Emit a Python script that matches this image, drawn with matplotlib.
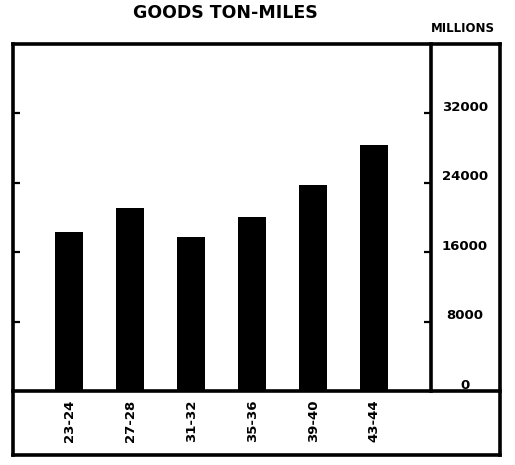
import numpy as np
import matplotlib.pyplot as plt
from matplotlib.lines import Line2D

# goods ton-miles (millions), by period
periods = ['23-24', '27-28', '31-32', '35-36', '39-40', '43-44']
ton_miles = [18300, 21100, 17800, 20100, 23700, 28400]
yticks = [0, 8000, 16000, 24000, 32000]
ytick_labels = ['0', '8000', '16000', '24000', '32000']

W, H = 515, 465
fig = plt.figure(figsize=(W / 100, H / 100), dpi=100)

def fx(px):
    return px / W

def fy(py):
    return 1 - py / H

lw = 2.6
font = dict(family='DejaVu Sans', weight='bold')

# outer frame
frame = fig.add_axes([fx(13), fy(455), fx(500) - fx(13), fy(44) - fy(455)])
frame.set_xticks([])
frame.set_yticks([])
for s in frame.spines.values():
    s.set_linewidth(lw)
frame.patch.set_alpha(0)

# bar panel
ax = fig.add_axes([fx(13), fy(391), fx(431) - fx(13), fy(44) - fy(391)])
ax.patch.set_alpha(0)
x = np.arange(len(periods))
ax.bar(x, ton_miles, width=0.46, color='black')
ax.set_xlim(-0.92, 5.93)
ax.set_ylim(0, 40000)
ax.spines['top'].set_visible(False)
ax.spines['left'].set_visible(False)
ax.spines['bottom'].set_visible(False)
ax.spines['right'].set_linewidth(lw)
ax.set_xticks([])
ax.set_yticks(yticks[1:])
ax.set_yticklabels([])
ax.tick_params(axis='y', which='both', left=True, right=True, direction='in',
               length=5, width=1.6)

# baseline runs under the scale column too
fig.add_artist(Line2D([fx(13), fx(500)], [fy(391), fy(391)], color='black',
                      linewidth=lw, transform=fig.transFigure))

# scale labels in the right column
for v, lab in zip(yticks, ytick_labels):
    ypix = 391 - v * (391 - 44) / 40000 - 6
    fig.text(fx(465), fy(ypix), lab, ha='center', va='center', fontsize=9.5, **font)

# period labels under the bars
for i, p in enumerate(periods):
    xd = ax.transData.transform((i, 0))[0]
    fig.text(xd / fig.dpi / fig.get_figwidth(), fy(421), p, rotation=90,
             ha='center', va='center', fontsize=9.5, **font)

fig.text(fx(225), fy(13), 'GOODS TON-MILES', ha='center', va='center',
         fontsize=12.5, **font)
fig.text(fx(463), fy(28), 'MILLIONS', ha='center', va='center',
         fontsize=8.5, **font)

fig.savefig('out.png', dpi=100)
